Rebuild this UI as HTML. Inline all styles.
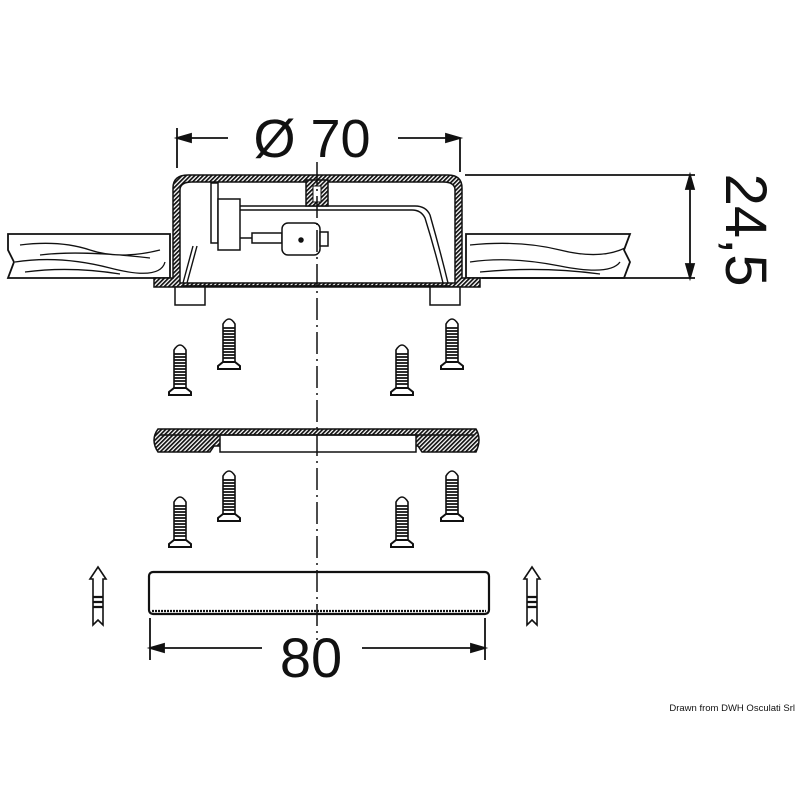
<!DOCTYPE html>
<html><head><meta charset="utf-8"><style>
html,body{margin:0;padding:0;background:#fff}
svg{display:block}
text{font-family:"Liberation Sans",sans-serif;fill:#111}
</style></head><body>
<svg width="800" height="800" viewBox="0 0 800 800" xmlns="http://www.w3.org/2000/svg">
<defs>
<pattern id="h" width="3" height="3" patternUnits="userSpaceOnUse" patternTransform="rotate(45)">
<rect width="3" height="3" fill="#fff"/><rect width="1.7" height="3" fill="#111"/></pattern>
<g id="screw" stroke="#111" stroke-width="1.6" fill="#fff">
<path d="M-6,44 L-6,6 Q0,-4 6,6 L6,44 Z"/>
<path d="M-6,10h12M-6,13h12M-6,16h12M-6,19h12M-6,22h12M-6,25h12M-6,28h12M-6,31h12M-6,34h12M-6,37h12M-6,40h12" stroke-width="1.8"/>
<path d="M-6,44 L-11,48 L-11,51 L11,51 L11,48 L6,44 Z" stroke-width="2"/>
</g>
<g id="arr" stroke="#111" stroke-width="1.6" fill="#fff">
<path d="M0,0 L8,12 L5,12 L5,58 L0,53 L-5,58 L-5,12 L-8,12 Z"/>
<path d="M-5,30h10M-5,35h10M-5,40h10" stroke-width="2.2"/>
</g>
</defs>
<g stroke="#111" stroke-width="1.8" fill="none">
<line x1="177" y1="128" x2="177" y2="168"/>
<line x1="460" y1="138" x2="460" y2="172"/>
<line x1="177" y1="138" x2="228" y2="138"/>
<line x1="398" y1="138" x2="460" y2="138"/>
<path d="M177,138 l14,-4 v8 z M460,138 l-14,-4 v8 z" fill="#111"/>
<line x1="465" y1="175" x2="695" y2="175"/>
<line x1="482" y1="278" x2="695" y2="278"/>
<line x1="690" y1="175" x2="690" y2="278"/>
<path d="M690,175 l-4,14 h8 z M690,278 l-4,-14 h8 z" fill="#111"/>
<path d="M8,234 L170,234 L170,278 L8,278 L14,262 L8,250 Z"/>
<path d="M20,245 Q60,240 90,250 T160,250 M15,262 Q60,255 110,268 T165,262 M25,272 Q70,266 120,274 M40,255 Q80,250 150,258" stroke-width="1.3"/>
<path d="M466,234 L630,234 L624,250 L630,262 L624,278 L466,278 Z"/>
<path d="M470,245 Q520,240 560,250 T625,248 M470,262 Q510,256 560,266 T620,262 M480,272 Q540,266 600,274" stroke-width="1.3"/>
</g>
<path d="M173,278 L173,188 Q173,175 188,175 L448,175 Q462,175 462,188 L462,278 L480,278 L480,287 L154,287 L154,278 Z" fill="url(#h)" stroke="#111" stroke-width="1.5"/>
<path d="M180,283 L180,190 Q180,182 192,182 L443,182 Q455,182 455,190 L455,283 Z" fill="#fff" stroke="#111" stroke-width="1.5"/>
<path d="M183,283 L193,246 M187,283 L197,246 M448,283 Q440,250 430,215 Q426,206 415,206 L240,206 M443,283 Q435,250 425,218 Q421,210 412,210 L240,210" stroke="#111" stroke-width="1.4" fill="none"/>
<line x1="183" y1="286" x2="450" y2="286" stroke="#111" stroke-width="1.8"/>
<rect x="306" y="180" width="22" height="26" fill="url(#h)" stroke="#111" stroke-width="1.5"/>
<rect x="313" y="186" width="8" height="16" fill="#fff" stroke="#111"/>
<g stroke="#111" stroke-width="1.5" fill="#fff">
<rect x="211" y="183" width="7" height="60"/>
<rect x="218" y="199" width="22" height="51"/>
<line x1="240" y1="238" x2="252" y2="238"/>
<rect x="252" y="233" width="30" height="10"/>
<rect x="282" y="223" width="38" height="32" rx="6"/>
<rect x="320" y="232" width="8" height="14"/>
<circle cx="301" cy="240" r="2" fill="#111"/>
<rect x="175" y="287" width="30" height="18"/>
<rect x="430" y="287" width="30" height="18"/>
</g>
<use href="#screw" x="229" y="318"/>
<use href="#screw" x="180" y="344"/>
<use href="#screw" x="402" y="344"/>
<use href="#screw" x="452" y="318"/>
<use href="#screw" x="229" y="470"/>
<use href="#screw" x="180" y="496"/>
<use href="#screw" x="402" y="496"/>
<use href="#screw" x="452" y="470"/>
<path d="M158,429 L476,429 Q482,439 476,452 L422,452 L418,446 L214,446 L210,452 L158,452 Q150,440 158,429 Z" fill="url(#h)" stroke="#111" stroke-width="1.5"/>
<rect x="220" y="435" width="196" height="17" fill="#fff" stroke="#111" stroke-width="1.5"/>
<line x1="160" y1="435" x2="474" y2="435" stroke="#111" stroke-width="1.4"/>
<rect x="149" y="572" width="340" height="42" rx="4" fill="#fff" stroke="#111" stroke-width="2.2"/>
<line x1="152" y1="611" x2="486" y2="611" stroke="#111" stroke-width="2.2" stroke-dasharray="2,1"/>
<line x1="317" y1="162" x2="317" y2="640" stroke="#111" stroke-width="1.5" stroke-dasharray="22,5,2,5"/>
<g stroke="#111" stroke-width="1.8">
<line x1="150" y1="618" x2="150" y2="660"/>
<line x1="485" y1="618" x2="485" y2="660"/>
<line x1="150" y1="648" x2="262" y2="648"/>
<line x1="362" y1="648" x2="485" y2="648"/>
<path d="M150,648 l14,-4 v8 z M485,648 l-14,-4 v8 z" fill="#111"/>
</g>
<use href="#arr" x="98" y="567"/>
<use href="#arr" x="532" y="567"/>
<text x="312" y="157" font-size="54" text-anchor="middle">Ø 70</text>
<text x="311" y="677" font-size="56" text-anchor="middle">80</text>
<text transform="translate(726,230) rotate(90)" font-size="58" text-anchor="middle">24,5</text>
<text x="795" y="711" font-size="9.5" text-anchor="end">Drawn from DWH Osculati Srl</text>
</svg>
</body></html>
